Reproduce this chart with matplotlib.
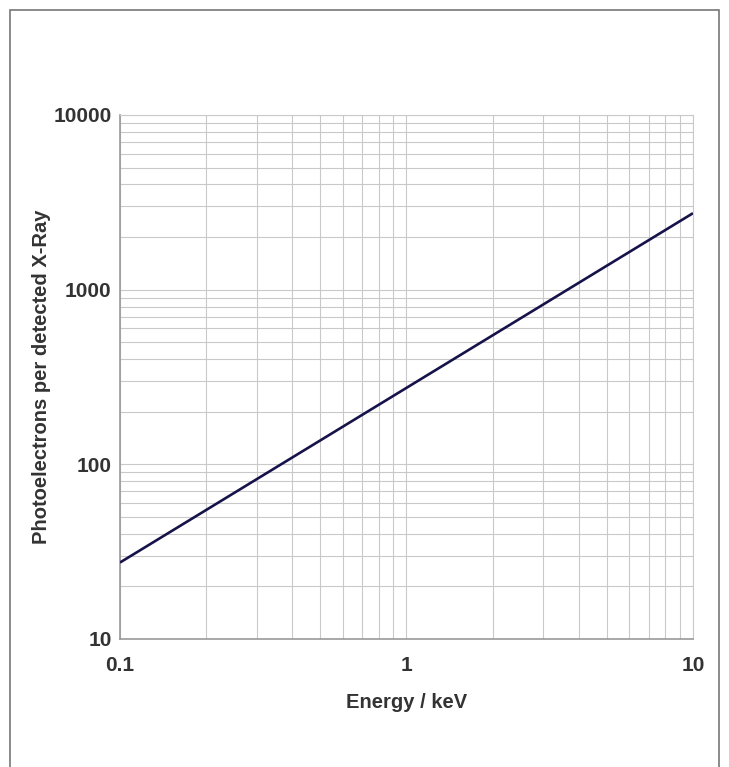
import matplotlib
matplotlib.use("Agg")
import matplotlib.pyplot as plt
from matplotlib.patches import Rectangle
from matplotlib.ticker import FixedLocator, LogLocator, NullFormatter

# data (straight line on log-log axes)
energia = [0.1, 10]
fotoelectrones = [27.4, 2740]

xticks = [0.1, 1, 10]
xtick_labels = ["0.1", "1", "10"]
yticks = [10, 100, 1000, 10000]
ytick_labels = ["10", "100", "1000", "10000"]

plt.rcParams["font.family"] = ["Liberation Sans", "DejaVu Sans"]
plt.rcParams["font.weight"] = "bold"

fig = plt.figure(figsize=(7.29, 7.67), dpi=100)
ax = fig.add_axes([0.1646, 0.1669, 0.786, 0.6832])

ax.plot(energia, fotoelectrones, color="#16124a", lw=1.9, solid_capstyle="butt", zorder=3)

ax.set_xscale("log")
ax.set_yscale("log")
ax.set_xlim(0.1, 10)
ax.set_ylim(10, 10000)

ax.xaxis.set_major_locator(FixedLocator(xticks))
ax.set_xticklabels(xtick_labels)
ax.yaxis.set_major_locator(FixedLocator(yticks))
ax.set_yticklabels(ytick_labels)
for axis in (ax.xaxis, ax.yaxis):
    axis.set_minor_locator(LogLocator(base=10, subs=range(2, 10)))
    axis.set_minor_formatter(NullFormatter())

ax.grid(True, which="both", color="#c9c9c9", lw=0.8)
ax.tick_params(which="both", length=0, labelsize=15, labelcolor="#333333")
ax.tick_params(axis="x", pad=12)
ax.tick_params(axis="y", pad=6)

for lado in ["top", "right"]:
    ax.spines[lado].set_color("#c9c9c9")
    ax.spines[lado].set_linewidth(0.8)
for lado in ["left", "bottom"]:
    ax.spines[lado].set_color("#999999")
    ax.spines[lado].set_linewidth(1.2)

ax.set_xlabel("Energy / keV", fontsize=14.5, fontweight="bold", color="#333333", labelpad=13)
ax.set_ylabel("Photoelectrons per detected X-Ray", fontsize=14.5, fontweight="bold",
              color="#333333", labelpad=1.5)

# marco exterior (abierto por abajo)
marco = Rectangle((9.5 / 729, -0.05), (719 - 9.5) / 729, 1.05 - 9.5 / 767,
                  transform=fig.transFigure, fill=False, edgecolor="#777777", lw=1.2)
fig.patches.append(marco)

fig.savefig("out.png", dpi=100)
